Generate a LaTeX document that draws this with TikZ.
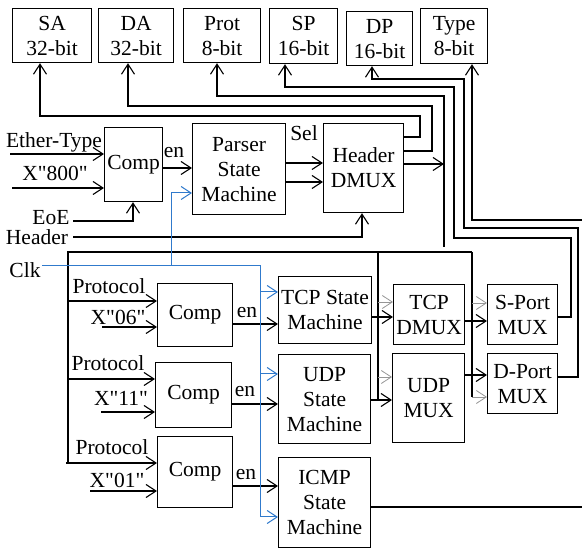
\documentclass[tikz,border=0pt]{standalone}
\usepackage{fontspec}
\setmainfont{Liberation Serif}[Ligatures=TeXOff]
\usetikzlibrary{arrows.meta,calc}
\definecolor{clkblue}{RGB}{48,122,204}
\definecolor{busgray}{RGB}{150,150,150}
\begin{document}
\begin{tikzpicture}[x=1pt,y=-1pt,
  txt/.style={font=\fontsize{21.5}{25}\selectfont},
  box/.style={txt, draw, line width=1.2pt, inner sep=0pt, align=center, anchor=north west},
  lbl/.style={txt, inner sep=0pt},
  wire/.style={line width=1.2pt},
  arr/.style={wire, -{Straight Barb[length=10pt,width=13pt,line width=1.1pt]}},
  clk/.style={line width=1pt, draw=clkblue},
  clkarr/.style={clk, -{Straight Barb[length=10pt,width=13pt,line width=1pt]}},
  garr/.style={draw=busgray, line width=0.8pt, -{Straight Barb[length=10pt,width=13pt,line width=0.8pt]}}]
\useasboundingbox (0,0) rectangle (582,548);

% output field registers
\node[box, minimum width=79pt, minimum height=54pt] (sa)   at (12,8)  {SA\\32-bit};
\node[box, minimum width=75pt, minimum height=54pt] (da)   at (98,8)  {DA\\32-bit};
\node[box, minimum width=77pt, minimum height=54pt] (prot) at (183,8) {Prot\\8-bit};
\node[box, minimum width=68pt, minimum height=55pt] (sp)   at (269,8) {SP\\16-bit};
\node[box, minimum width=66pt, minimum height=54pt] (dp)   at (346,11) {DP\\16-bit};
\node[box, minimum width=67pt, minimum height=55pt] (type) at (420,8) {Type\\8-bit};

% Ethernet stage
\node[box, minimum width=58pt, minimum height=74pt] (comp0)  at (104,127) {Comp};
\node[box, minimum width=93pt, minimum height=91pt] (parser) at (192,123) {Parser\\State\\Machine};
\node[box, minimum width=80pt, minimum height=89pt] (hd)     at (323,123) {Header\\DMUX};

% protocol comparators
\node[box, minimum width=75pt, minimum height=63pt] (comp1) at (157,283) {Comp};
\node[box, minimum width=76pt, minimum height=65pt] (comp2) at (155,362) {Comp};
\node[box, minimum width=75pt, minimum height=71pt] (comp3) at (157,436) {Comp};

% protocol state machines
\node[box, minimum width=93pt, minimum height=67pt] (tcp)  at (278,276) {TCP State\\Machine};
\node[box, minimum width=92pt, minimum height=89pt] (udp)  at (278,354) {UDP\\State\\Machine};
\node[box, minimum width=92pt, minimum height=90pt] (icmp) at (278,457) {ICMP\\State\\Machine};

% port multiplexers
\node[box, minimum width=71pt, minimum height=60pt] (tdm) at (393,284) {TCP\\DMUX};
\node[box, minimum width=72pt, minimum height=89pt] (umx) at (392,353) {UDP\\MUX};
\node[box, minimum width=70pt, minimum height=60pt] (spm) at (487,284) {S-Port\\MUX};
\node[box, minimum width=70pt, minimum height=60pt] (dpm) at (487,353) {D-Port\\MUX};

% input labels
\node[lbl] (lether) at (54,142) {Ether-Type};
\node[lbl] (l800)   at (55,173) {X"800"};
\node[lbl] (leoe)   at (51,218) {EoE};
\node[lbl] (lhead)  at (37,237) {Header};
\node[lbl] (lclk)   at (25,270) {Clk};
\node[lbl] (len0)   at (174,153) {en};
\node[lbl] (lsel)   at (304,133) {Sel};
\node[lbl] (lp1)    at (109,286) {Protocol};
\node[lbl] (lx06)   at (118,317) {X"06"};
\node[lbl] (lp2)    at (108,363) {Protocol};
\node[lbl] (lx11)   at (121,398) {X"11"};
\node[lbl] (lp3)    at (112,447) {Protocol};
\node[lbl] (lx01)   at (117,480) {X"01"};
\node[lbl] (len1)   at (247,313) {en};
\node[lbl] (len2)   at (245,392) {en};
\node[lbl] (len3)   at (246,475) {en};

% free wire ends
\coordinate (ethin)  at (10,154);
\coordinate (x800in) at (12,188);
\coordinate (eoein)  at (73,221);
\coordinate (hdin)   at (73,237);
\coordinate (clkin)  at (42,266);
\coordinate (protend) at (444,247);
\coordinate (typeout) at (582,220);
\coordinate (icmpout) at (582,507);
\coordinate (busl) at (68,252);
\coordinate (busr) at (472,252);

% Ethernet stage wiring
\draw[arr] (ethin) -- (comp0.west |- ethin);
\draw[arr] (x800in) -- (comp0.west |- x800in);
\draw[arr] (eoein) -| (comp0.south -| 133,0);
\draw[arr] (comp0.east |- 0,168) -- (parser.west |- 0,168);
\draw[arr] (parser.east |- 0,163) -- (hd.west |- 0,163);
\draw[arr] (parser.east |- 0,182) -- (hd.west |- 0,182);
\draw[arr] (hdin) -| (hd.south -| 362,0);

% header fields to registers
\draw[arr] (hd.east |- 0,137) -| (420,116) -| (sa.south -| 40,0);
\draw[arr] (hd.east |- 0,151) -| (432,106) -| (da.south -| 128,0);
\draw[arr] (protend) |- (217,96) -- (prot.south -| 217,0);
\draw[arr] (hd.east |- 0,164) -- (protend |- 0,164);
\draw[arr] (spm.east |- 0,317) -| (571,238) -| (454,87) -| (sp.south -| 285,0);
\draw[arr] (dpm.east |- 0,377) -| (578,228) -| (464,79) -| (dp.south -| 372,0);
\draw[arr] (typeout) -| (type.south -| 472,0);
\draw[wire] (icmp.east |- icmpout) -- (icmpout);

% protocol bus
\draw[wire] (busr) -- (busl) -- (68,463);
\draw[wire] (378,252) -- (378,400);
\draw[wire] (busr) -- (472,397);

% comparator inputs
\draw[arr] (68,301) -- (comp1.west |- 0,301);
\draw[arr] (102,327) -- (comp1.west |- 0,327);
\draw[arr] (68,379) -- (comp2.west |- 0,379);
\draw[arr] (101,412) -- (comp2.west |- 0,412);
\draw[arr] (66,463) -- (comp3.west |- 0,463);
\draw[arr] (90,491) -- (comp3.west |- 0,491);

% enables
\draw[arr] (comp1.east |- 0,324) -- (tcp.west |- 0,324);
\draw[arr] (comp2.east |- 0,404) -- (udp.west |- 0,404);
\draw[arr] (comp3.east |- 0,486) -- (icmp.west |- 0,486);

% state machines to multiplexers
\draw[arr] (tcp.east |- 0,317) -- (tdm.west |- 0,317);
\draw[arr] (udp.east |- 0,400) -- (umx.west |- 0,400);
\draw[arr] (tdm.east |- 0,321) -- (spm.west |- 0,321);
\draw[arr] (umx.east |- 0,375) -- (dpm.west |- 0,375);
\draw[garr] (378,302) -- (tdm.west |- 0,302);
\draw[garr] (378,377) -- (umx.west |- 0,377);
\draw[garr] (472,303) -- (spm.west |- 0,303);
\draw[garr] (472,397) -- (dpm.west |- 0,397);

% clock distribution
\draw[clk] (clkin) -- (260,266) -- (260,517);
\draw[clkarr] (171,266) |- (parser.west |- 0,193);
\draw[clkarr] (260,292) -- (tcp.west |- 0,292);
\draw[clkarr] (260,374) -- (udp.west |- 0,374);
\draw[clkarr] (260,517) -- (icmp.west |- 0,517);
\end{tikzpicture}
\end{document}
